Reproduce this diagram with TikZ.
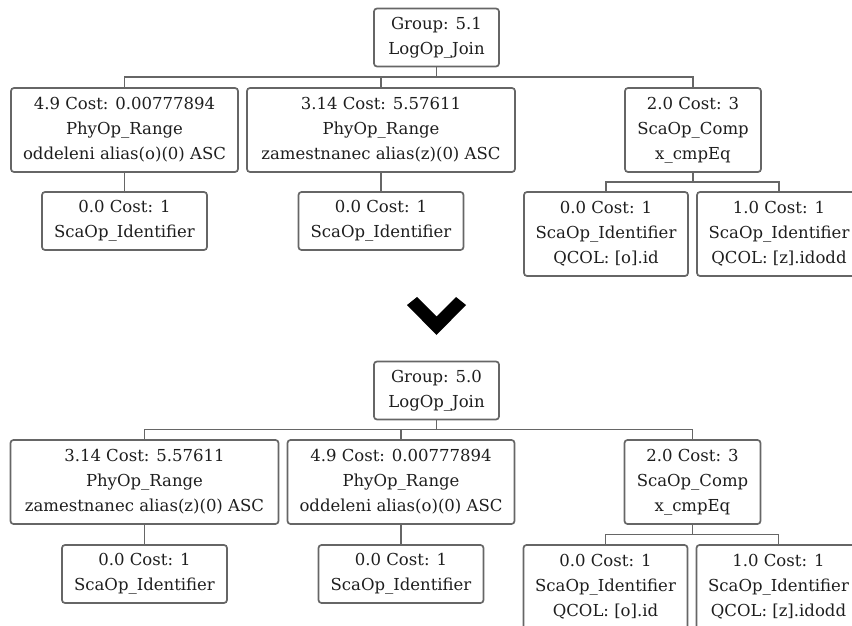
\documentclass[tikz,border=0pt]{standalone}
\usepackage{fontspec}
\setmainfont{DejaVu Serif}
\usepackage{xcolor}
\usetikzlibrary{positioning}

\definecolor{boxgray}{HTML}{666666}
\definecolor{txtgray}{HTML}{1e1e1e}

\begin{document}
\begin{tikzpicture}[
      x=1pt, y=1pt,
      box/.style={draw=boxgray, line width=1.7pt, rectangle, rounded corners=3pt,
                  fill=white, align=center, inner sep=0pt, outer sep=0pt, text=txtgray,
                  font=\fontsize{16.5}{25}\selectfont, minimum height=58pt},
      tall/.style={box, minimum height=84pt},
      edge/.style={draw=boxgray, line width=1.7pt},
    ]
    \useasboundingbox (0,0) rectangle (852,625);

    % --- upper tree
    \node[box, minimum width=125pt] (g51) at (436.5,587.5) {Group: 5.1\\LogOp\_Join};
    \node[tall, minimum width=227pt] (r49) at (124.5,495) {4.9 Cost: 0.00777894\\PhyOp\_Range\\oddeleni alias(o)(0) ASC};
    \node[tall, minimum width=268pt, right=9pt of r49] (r314) {3.14 Cost: 5.57611\\PhyOp\_Range\\zamestnanec alias(z)(0) ASC};
    \node[tall, minimum width=136pt, right=110pt of r314] (c20) {2.0 Cost: 3\\ScaOp\_Comp\\x\_cmpEq};
    \node[box, minimum width=165pt, below=20pt of r49] (i49) {0.0 Cost: 1\\ScaOp\_Identifier};
    \node[box, minimum width=165pt, below=20pt of r314] (i314) {0.0 Cost: 1\\ScaOp\_Identifier};
    \node[tall, minimum width=164pt, below=20pt of c20, xshift=-87pt] (qo) {0.0 Cost: 1\\ScaOp\_Identifier\\QCOL: [o].id};
    \node[tall, minimum width=164pt, right=9pt of qo] (qz) {1.0 Cost: 1\\ScaOp\_Identifier\\QCOL: [z].idodd};

    \foreach \kid in {r49, r314, c20}
      \draw[edge] (g51.south) -- ++(0,-10.5) -| (\kid.north);
    \draw[edge] (r49.south) -- (i49.north);
    \draw[edge] (r314.south) -- (i314.north);
    \foreach \kid in {qo, qz}
      \draw[edge] (c20.south) -- ++(0,-10) -| (\kid.north);

    % --- chevron
    \fill[black] (407,320) -- (417,328) -- (436.5,308.5) -- (456,328)
      -- (466,320) -- (436.5,290) -- cycle;

    % --- lower tree
    \node[box, minimum width=125pt] (g50) at (436.5,234.5) {Group: 5.0\\LogOp\_Join};
    \node[tall, minimum width=268pt] (s314) at (144.5,143) {3.14 Cost: 5.57611\\PhyOp\_Range\\zamestnanec alias(z)(0) ASC};
    \node[tall, minimum width=227pt, right=9pt of s314] (s49) {4.9 Cost: 0.00777894\\PhyOp\_Range\\oddeleni alias(o)(0) ASC};
    \node[tall, minimum width=136pt, right=110pt of s49] (d20) {2.0 Cost: 3\\ScaOp\_Comp\\x\_cmpEq};
    \node[box, minimum width=165pt, below=21pt of s314] (j314) {0.0 Cost: 1\\ScaOp\_Identifier};
    \node[box, minimum width=165pt, below=21pt of s49] (j49) {0.0 Cost: 1\\ScaOp\_Identifier};
    \node[tall, minimum width=164pt, below=21pt of d20, xshift=-87pt] (po) {0.0 Cost: 1\\ScaOp\_Identifier\\QCOL: [o].id};
    \node[tall, minimum width=164pt, right=9pt of po] (pz) {1.0 Cost: 1\\ScaOp\_Identifier\\QCOL: [z].idodd};

    \foreach \kid in {s314, s49, d20}
      \draw[edge] (g50.south) -- ++(0,-10) -| (\kid.north);
    \draw[edge] (s314.south) -- (j314.north);
    \draw[edge] (s49.south) -- (j49.north);
    \foreach \kid in {po, pz}
      \draw[edge] (d20.south) -- ++(0,-10.5) -| (\kid.north);
  \end{tikzpicture}
\end{document}
